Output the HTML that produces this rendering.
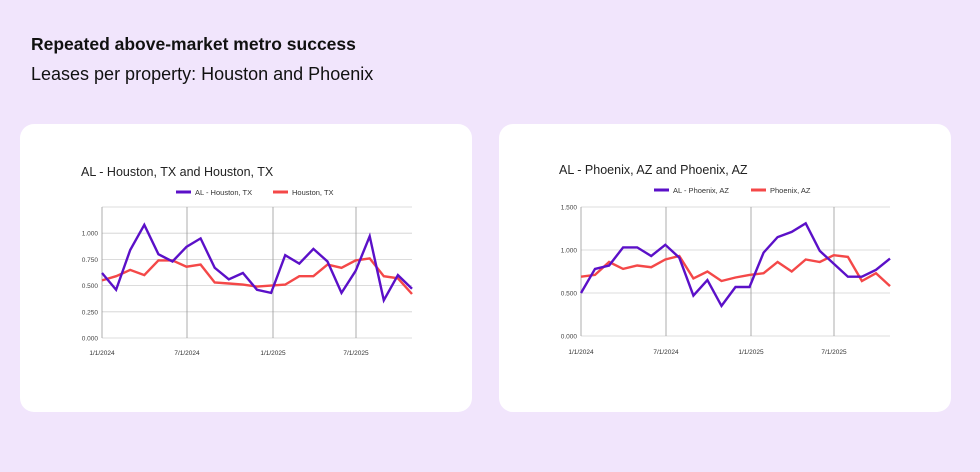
<!DOCTYPE html>
<html><head><meta charset="utf-8"><style>
html,body{margin:0;padding:0}
body{width:980px;height:472px;background:#f1e5fc;font-family:"Liberation Sans",sans-serif;position:relative;overflow:hidden}
.h1{position:absolute;left:31px;top:34px;font-size:17.5px;font-weight:bold;color:#111}
.h2{position:absolute;left:31px;top:64px;font-size:18px;color:#111}
.card{position:absolute;top:124px;width:452px;height:288px;background:#fff;border-radius:14px}
svg{position:absolute;left:0;top:0}
</style></head><body>
<div class="h1">Repeated above-market metro success</div>
<div class="h2">Leases per property: Houston and Phoenix</div>
<div class="card" style="left:20px"></div>
<div class="card" style="left:499px"></div>
<svg width="980" height="472" font-family="Liberation Sans, sans-serif">
<g id="g1"></g><g id="g2"></g>
<text x="81" y="176" font-size="12.5" fill="#222">AL - Houston, TX and Houston, TX</text>
<line x1="176" y1="192" x2="191" y2="192" stroke="#5b10c8" stroke-width="3"/>
<text x="195" y="195" font-size="7.5" fill="#333">AL - Houston, TX</text>
<line x1="273" y1="192" x2="288" y2="192" stroke="#f44848" stroke-width="3"/>
<text x="292" y="195" font-size="7.5" fill="#333">Houston, TX</text>
<text x="559" y="174" font-size="12.5" fill="#222">AL - Phoenix, AZ and Phoenix, AZ</text>
<line x1="654" y1="190" x2="669" y2="190" stroke="#5b10c8" stroke-width="3"/>
<text x="673" y="193" font-size="7.5" fill="#333">AL - Phoenix, AZ</text>
<line x1="751" y1="190" x2="766" y2="190" stroke="#f44848" stroke-width="3"/>
<text x="770" y="193" font-size="7.5" fill="#333">Phoenix, AZ</text>
</svg>
<script>
function chart(id,x0,x1,y0,yTop,max,step,ticks,vx,ly,lx0,a,b){
 var g=document.getElementById(id),s='';
 var H=y0-yTop,Y=function(v){return y0-v/max*H};
 for(var v=0;v<=max+1e-9;v+=step){var y=Y(v);s+='<line x1="'+x0+'" y1="'+y+'" x2="'+x1+'" y2="'+y+'" stroke="#d0d0d0" stroke-width="0.8"/>';
  if(ticks.indexOf(Math.round(v*1000)/1000)>=0)s+='<text x="'+(x0-4)+'" y="'+(y+2.5)+'" font-size="6.5" text-anchor="end" fill="#444">'+v.toFixed(3)+'</text>';}
 s+='<line x1="'+x0+'" y1="'+yTop+'" x2="'+x0+'" y2="'+y0+'" stroke="#999" stroke-width="0.8"/>';
 var labs=['1/1/2024','7/1/2024','1/1/2025','7/1/2025'];
 var xs=[x0].concat(vx);
 vx.forEach(function(x){s+='<line x1="'+x+'" y1="'+yTop+'" x2="'+x+'" y2="'+y0+'" stroke="#999" stroke-width="0.8"/>';});
 xs.forEach(function(x,i){s+='<text x="'+x+'" y="'+ly+'" font-size="6.5" text-anchor="middle" fill="#333">'+labs[i]+'</text>';});
 function pl(d,c){var p=d.map(function(v,i){return (x0+(x1-x0)*i/(d.length-1)).toFixed(1)+','+Y(v).toFixed(1)}).join(' ');
  return '<polyline points="'+p+'" fill="none" stroke="'+c+'" stroke-width="2.4" stroke-linejoin="miter"/>';}
 s+=pl(b,'#f44848')+pl(a,'#5b10c8');
 g.innerHTML=s;
}
chart('g1',102,412,338,207,1.25,0.25,[0,0.25,0.5,0.75,1],[187,273,356],355,0,
[0.62,0.46,0.84,1.08,0.80,0.73,0.87,0.95,0.67,0.56,0.62,0.46,0.43,0.79,0.71,0.85,0.73,0.43,0.64,0.97,0.36,0.60,0.47],
[0.55,0.59,0.65,0.60,0.74,0.74,0.68,0.70,0.53,0.52,0.51,0.49,0.50,0.51,0.59,0.59,0.70,0.67,0.74,0.76,0.59,0.57,0.42]);
chart('g2',581,890,336,207,1.5,0.5,[0,0.5,1,1.5],[666,751,834],354,0,
[0.50,0.78,0.82,1.03,1.03,0.93,1.06,0.91,0.47,0.65,0.35,0.57,0.57,0.97,1.15,1.21,1.31,0.99,0.84,0.69,0.69,0.77,0.90],
[0.69,0.71,0.86,0.78,0.82,0.80,0.89,0.93,0.67,0.75,0.64,0.68,0.71,0.73,0.86,0.75,0.89,0.86,0.94,0.92,0.64,0.73,0.58]);
</script>
</body></html>
